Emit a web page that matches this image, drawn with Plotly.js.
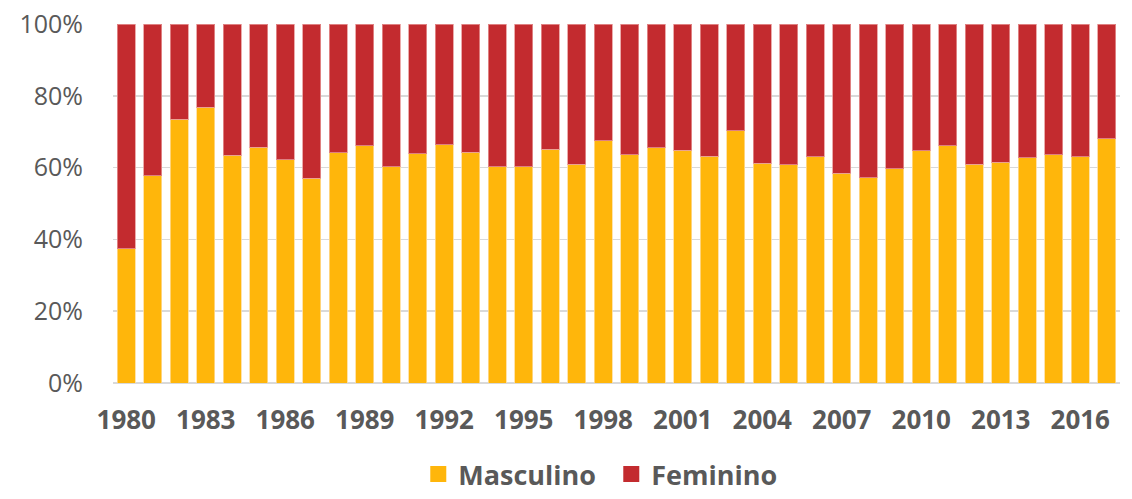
<!DOCTYPE html>
<html>
<head>
<meta charset="utf-8">
<script src="https://cdn.plot.ly/plotly-3.0.1.min.js"></script>
<style>html,body{margin:0;padding:0;background:#fff;}#chart{width:1132px;height:499px;}</style>
</head>
<body>
<div id="chart"></div>
<script>
const years = ["1980","1981","1982","1983","1984","1985","1986","1987","1988","1989","1990","1991","1992","1993","1994","1995","1996","1997","1998","1999","2000","2001","2002","2003","2004","2005","2006","2007","2008","2009","2010","2011","2012","2013","2014","2015","2016","2017"];
const masculino = [37.4,57.7,73.4,76.8,63.5,65.7,62.2,57.1,64.2,66.1,60.3,63.8,66.4,64.3,60.3,60.2,65.1,61.0,67.5,63.6,65.6,64.9,63.2,70.3,61.2,60.8,63.0,58.4,57.2,59.7,64.7,66.1,60.9,61.5,62.8,63.6,63.0,68.1];
const feminino = [62.6,42.3,26.6,23.2,36.5,34.3,37.8,42.9,35.8,33.9,39.7,36.2,33.6,35.7,39.7,39.8,34.9,39.0,32.5,36.4,34.4,35.1,36.8,29.7,38.8,39.2,37.0,41.6,42.8,40.3,35.3,33.9,39.1,38.5,37.2,36.4,37.0,31.9];
const tickYears = ["1980","1983","1986","1989","1992","1995","1998","2001","2004","2007","2010","2013","2016"];
const yTicks = [0,20,40,60,80,100];
const yTickText = ["0%","20%","40%","60%","80%","100%"];
const colM = '#FFB60B', colF = '#C32B2F';

const data = [
  {type:'bar', name:'Masculino', x:years, y:masculino, showlegend:false, marker:{color:colM, line:{color:'rgba(255,220,150,0.8)', width:1}}},
  {type:'bar', name:'Feminino', x:years, y:feminino, showlegend:false, marker:{color:colF, line:{color:'rgba(230,150,150,0.8)', width:1}}},
  {type:'scatter', mode:'markers', name:'Masculino', x:[null], y:[null], marker:{symbol:'square', size:16, color:colM}},
  {type:'scatter', mode:'markers', name:'Feminino', x:[null], y:[null], marker:{symbol:'square', size:16, color:colF}}
];
const layout = {
  width:1132, height:499,
  margin:{l:113, r:12, t:24, b:116, autoexpand:false},
  barmode:'stack', bargap:0.32,
  paper_bgcolor:'#fff', plot_bgcolor:'#fff',
  font:{family:'"Open Sans", sans-serif', color:'#595959'},
  showlegend:true,
  legend:{orientation:'h', x:0.54, xanchor:'center', xref:'container', y:-0.014, yanchor:'bottom', yref:'container',
          font:{size:27, color:'#595959', weight:'bold'}, itemwidth:30, traceorder:'normal', tracegroupgap:0,
          entrywidth:148, entrywidthmode:'pixels'},
  xaxis:{type:'category', tickmode:'array', tickvals:tickYears, ticktext:tickYears,
         tickfont:{size:26, color:'#595959', weight:'bold'}, ticks:'outside', ticklen:14, tickcolor:'rgba(0,0,0,0)',
         showgrid:false, showline:false, zeroline:false, fixedrange:true},
  yaxis:{range:[0,100], tickmode:'array', tickvals:yTicks, ticktext:yTickText,
         tickfont:{size:25, color:'#595959'}, ticks:'outside', ticklen:24, tickcolor:'rgba(0,0,0,0)',
         showgrid:true, gridcolor:'#d9d9d9', gridwidth:1.5, zeroline:true, zerolinecolor:'#d9d9d9', zerolinewidth:1.5,
         showline:false, fixedrange:true}
};
Plotly.newPlot('chart', data, layout, {displayModeBar:false, staticPlot:true});
</script>
</body>
</html>
